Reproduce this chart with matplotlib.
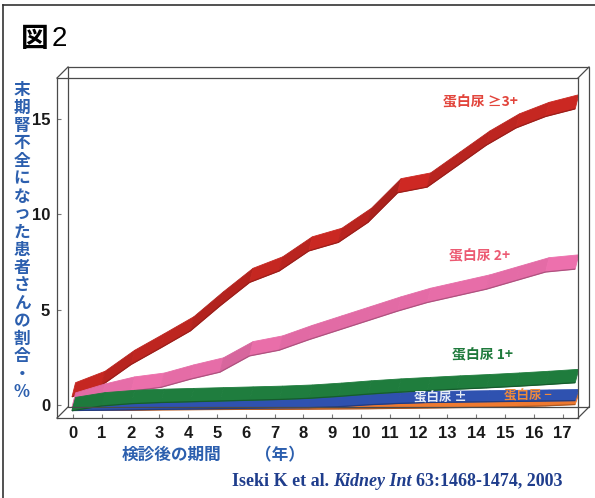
import numpy as np
import matplotlib
matplotlib.use("Agg")
import matplotlib.pyplot as plt
from matplotlib.patches import Polygon
from matplotlib.lines import Line2D
from matplotlib.colors import to_rgb

plt.rcParams['font.family'] = ['Noto Sans CJK JP', 'DejaVu Sans']

# ---- data: cumulative ESRD incidence (%) by years after screening ----
years = list(range(18))
year_labels = [str(y) for y in years]
y_ticks = [0, 5, 10, 15]

prot_3plus = [0.80, 1.40, 2.50, 3.37, 4.26, 5.57, 6.80, 7.40, 8.45, 8.90,
              9.95, 11.50, 11.80, 12.90, 14.00, 14.90, 15.50, 15.90]
prot_2plus = [0.26, 0.73, 1.10, 1.30, 1.73, 2.10, 2.95, 3.25, 3.80, 4.30,
              4.80, 5.30, 5.75, 6.10, 6.45, 6.90, 7.35, 7.50]
prot_1plus = [0.05, 0.30, 0.42, 0.48, 0.52, 0.56, 0.60, 0.64, 0.70, 0.80,
              0.92, 1.02, 1.10, 1.18, 1.25, 1.33, 1.42, 1.52]
prot_pm = [0.00, 0.02, 0.04, 0.06, 0.08, 0.10, 0.12, 0.14, 0.15, 0.20,
           0.30, 0.37, 0.42, 0.44, 0.46, 0.48, 0.50, 0.52]
prot_neg = [0.00, 0.00, 0.00, 0.02, 0.03, 0.04, 0.05, 0.05, 0.06, 0.07,
            0.08, 0.10, 0.12, 0.14, 0.16, 0.19, 0.23, 0.30]

label_3plus = "蛋白尿 ≥3+"
label_2plus = "蛋白尿 2+"
label_1plus = "蛋白尿 1+"
label_pm = "蛋白尿 ±"
label_neg = "蛋白尿 −"

ylabel_text = "末期腎不全になった患者さんの割合・%"
xlabel_text = "検診後の期間"
xunit_text = "（年）"

# ---- figure / layout (pixel based) ----
W, H = 595, 498
fig = plt.figure(figsize=(W / 100, H / 100), dpi=100)
fig.patch.set_facecolor("white")


def fx(px):
    return px / W


def fy(py):
    return 1 - py / H


# front face of the 3-D box and the depth offset of the back face
FL, FT, FR, FB = 57, 78, 578, 418
DX, DY = 11, -11
PX_PER_PCT = 19.07
ZERO_Y = 405
ylo = -(FB - ZERO_Y) / PX_PER_PCT
yhi = (ZERO_Y - FT) / PX_PER_PCT

rect = [fx(FL), fy(FB), fx(FR) - fx(FL), fy(FT) - fy(FB)]

# ribbon plane (slightly deeper than the front face)
RX0, RSTEP = 72, 29.6
axr = fig.add_axes(rect)
axr.set_xlim(-(RX0 - FL) / RSTEP, (FR - RX0) / RSTEP)
axr.set_ylim(ylo, yhi)
axr.axis("off")

# front plane: ticks, labels, front edges
FX0, FSTEP = 73, 28.8
ax = fig.add_axes(rect)
ax.set_xlim(-(FX0 - FL) / FSTEP, (FR - FX0) / FSTEP)
ax.set_ylim(ylo, yhi)
ax.patch.set_alpha(0)
for sp in ax.spines.values():
    sp.set_color("#4a4a4a")
    sp.set_linewidth(0.9)
ax.set_xticks(years)
ax.set_xticklabels(year_labels, fontsize=12, fontweight="bold",
                   family=["Liberation Sans", "DejaVu Sans"], color="#1a1a1a")
ax.set_yticks(y_ticks)
ax.set_yticklabels([str(t) for t in y_ticks], fontsize=12, fontweight="bold",
                   family=["Liberation Sans", "DejaVu Sans"], color="#1a1a1a")
ax.tick_params(axis="x", direction="in", length=3, color="#777", pad=6)
ax.tick_params(axis="y", direction="in", length=3, color="#777", pad=5)

# back face and depth edges of the box
box_col, box_lw = "#4a4a4a", 0.9
back = [(FL + DX, FT + DY), (FR + DX, FT + DY), (FR + DX, FB + DY),
        (FL + DX, FB + DY), (FL + DX, FT + DY)]
fig.add_artist(Line2D([fx(p[0]) for p in back], [fy(p[1]) for p in back],
                      color=box_col, lw=box_lw))
for cx, cy in [(FL, FT), (FR, FT), (FL, FB), (FR, FB)]:
    fig.add_artist(Line2D([fx(cx), fx(cx + DX)], [fy(cy), fy(cy + DY)],
                          color=box_col, lw=box_lw))

# outer frame of the panel
fig.add_artist(Line2D([fx(3), fx(3)], [fy(5), 0], color="#333", lw=1.2))
fig.add_artist(Line2D([fx(3), 1], [fy(5), fy(5)], color="#333", lw=1.2))


def ribbon(xs, vals, h, base, z, depth=0.12):
    xs = np.asarray(xs, float)
    v = np.asarray(vals, float)
    lo, hi = v - h / 2, v + h / 2
    base = np.array(to_rgb(base))
    for i in range(len(xs) - 1):
        s = abs((v[i + 1] - v[i]) * PX_PER_PCT / (RSTEP * (xs[i + 1] - xs[i])))
        k = 1 - 0.2 * min(s, 1.0)
        col = np.clip(base * k, 0, 1)
        poly = [(xs[i], lo[i]), (xs[i + 1], lo[i + 1]),
                (xs[i + 1] + depth, hi[i + 1]), (xs[i] + depth, hi[i])]
        axr.add_patch(Polygon(poly, closed=True, fc=col, ec=col, lw=0.6,
                              zorder=z))
    axr.plot(xs, lo, color=np.clip(base * 0.72, 0, 1), lw=0.9, zorder=z + 0.1,
             solid_capstyle="butt")


ribbon(years, prot_3plus, 0.74, "#d62a24", 1)
ribbon(years, prot_2plus, 0.75, "#f272b0", 2)
ribbon(years, prot_neg, 0.55, "#ef7a30", 3)
ribbon(years, prot_pm, 0.58, "#2f52b0", 4)
ribbon(years, prot_1plus, 0.70, "#1f7e3e", 5)

# series labels
lab_kw = dict(fontsize=10, fontweight="bold", ha="center", va="center")
fig.text(fx(480), fy(102), label_3plus, color="#e2453c", **lab_kw)
fig.text(fx(480), fy(256), label_2plus, color="#ec5a72", **lab_kw)
fig.text(fx(483), fy(355), label_1plus, color="#1f7a3c", **lab_kw)
fig.text(fx(440), fy(398), label_pm, color="#e4ebf7",
         **dict(lab_kw, fontsize=9), zorder=10)
fig.text(fx(528), fy(396), label_neg, color="#f08a3a",
         **dict(lab_kw, fontsize=9), zorder=10)

# title
fig.text(fx(21), fy(39), "図", fontsize=20, fontweight="bold", color="black",
         ha="left", va="center")
fig.text(fx(52), fy(39), "2", fontsize=20, color="black",
         family=["Liberation Sans", "DejaVu Sans"], ha="left", va="center")

# vertical y-axis title, one character per row
blue = "#2c5fae"
n = len(ylabel_text)
top_c, bot_c = 90, 392
for i, ch in enumerate(ylabel_text):
    yc = top_c + (bot_c - top_c) * i / (n - 1)
    fig.text(fx(22), fy(yc), ch, fontsize=12, fontweight="bold", color=blue,
             ha="center", va="center")

# x-axis title
fig.text(fx(122), fy(455), xlabel_text, fontsize=12, fontweight="bold",
         color=blue, ha="left", va="center")
fig.text(fx(255), fy(455), xunit_text, fontsize=12, fontweight="bold",
         color=blue, ha="left", va="center")

# citation line
cite_col = "#1f3d8c"
renderer = fig.canvas.get_renderer()
pieces = [("Iseki K et al.", "normal"), ("Kidney Int", "italic"),
          ("63:1468-1474, 2003", "normal")]
xc = fx(232)
for s, st in pieces:
    t = fig.text(xc, fy(481), s, fontsize=13, fontweight="bold",
                 fontstyle=st, color=cite_col, ha="left", va="center",
                 family=["Liberation Serif", "DejaVu Serif"])
    bb = t.get_window_extent(renderer=renderer)
    xc += (bb.width + 4) / W

fig.savefig("out.png", dpi=100, facecolor="white")
